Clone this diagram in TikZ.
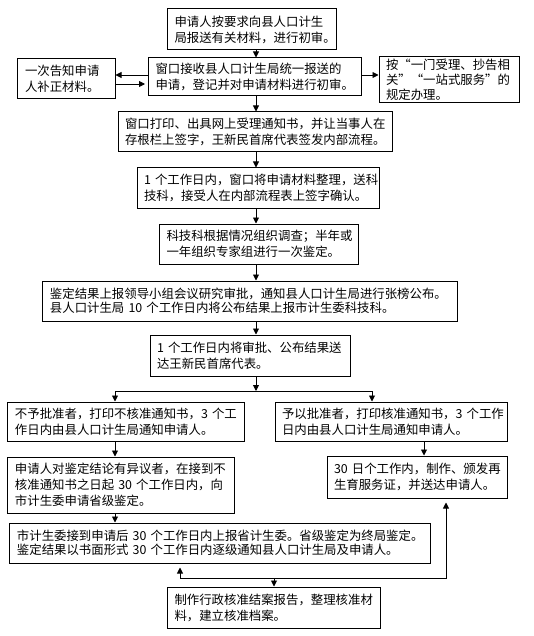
\documentclass[tikz,border=0pt]{standalone}
\usepackage{fontspec}
\setmainfont{Noto Sans CJK SC}
\usetikzlibrary{arrows.meta}
\tikzset{
  bx/.style={draw, line width=1bp, inner xsep=7bp, inner ysep=0pt, align=left,
    font=\fontsize{12.4bp}{16bp}\selectfont},
  arr/.style={line width=0.9bp, -{Triangle[length=6bp,width=6bp]}},
}
\begin{document}
\begin{tikzpicture}[x=1bp,y=-1bp]
\useasboundingbox (0,0) rectangle (534,636);
\node[bx, text width=155bp, minimum height=41bp] (A) at (252,29.5) {申请人按要求向县人口计生\\局报送有关材料，进行初审。};
\node[bx, text width=199bp, minimum height=38bp] (B) at (255,77) {窗口接收县人口计生局统一报送的\\申请，登记并对申请材料进行初审。};
\node[bx, text width=83bp, minimum height=40bp] (C) at (66.5,79) {一次告知申请\\人补正材料。};
\node[bx, text width=126bp, minimum height=46bp, font=\fontsize{12.4bp}{15bp}\selectfont] (D) at (449,80) {按“一门受理、抄告相\\关”“一站式服务”的\\规定办理。};
\node[bx, text width=260bp, minimum height=40bp] (E) at (255,132) {窗口打印、出具网上受理通知书，并让当事人在\\存根栏上签字，王新民首席代表签发内部流程。};
\node[bx, text width=228bp, minimum height=40bp] (F) at (258,188) {1~个工作日内，窗口将申请材料整理，送科\\技科，接受人在内部流程表上签字确认。};
\node[bx, text width=185bp, minimum height=40bp] (G) at (259,244) {科技科根据情况组织调查；半年或\\一年组织专家组进行一次鉴定。};
\node[bx, text width=400bp, minimum height=40bp, font=\fontsize{12.4bp}{14.5bp}\selectfont] (H) at (250,301) {鉴定结果上报领导小组会议研究审批，通知县人口计生局进行张榜公布。\\县人口计生局~10~个工作日内将公布结果上报市计生委科技科。};
\node[bx, text width=186bp, minimum height=41bp] (I) at (250,355.5) {1~个工作日内将审批、公布结果送\\达王新民首席代表。};
\node[bx, text width=222bp, minimum height=39bp] (J) at (126,421.5) {不予批准者，打印不核准通知书，3~个工\\作日内由县人口计生局通知申请人。};
\node[bx, text width=218bp, minimum height=39bp] (K) at (391,421.5) {予以批准者，打印核准通知书，3~个工作\\日内由县人口计生局通知申请人。};
\node[bx, text width=212bp, minimum height=56bp] (L) at (121,485) {申请人对鉴定结论有异议者，在接到不\\核准通知书之日起~30~个工作日内，向\\市计生委申请省级鉴定。};
\node[bx, text width=166bp, minimum height=42bp] (M) at (417,477) {30~日个工作内，制作、颁发再\\生育服务证，并送达申请人。};
\node[bx, text width=406bp, minimum height=40bp, font=\fontsize{12.4bp}{14.5bp}\selectfont] (N) at (220,543) {市计生委接到申请后~30~个工作日内上报省计生委。省级鉴定为终局鉴定。\\鉴定结果以书面形式~30~个工作日内逐级通知县人口计生局及申请人。};
\node[bx, text width=199bp, minimum height=41bp] (O) at (274,607.5) {制作行政核准结案报告，整理核准材\\料，建立核准档案。};
% helper coordinates
\coordinate (xm) at (256,0);
\coordinate (yu) at (0,75);
\coordinate (yl) at (0,84);
\coordinate (sp) at (256,391);
\coordinate (xj) at (115,0);
\coordinate (xk) at (372,0);
\coordinate (xmr) at (424,0);
\coordinate (bm) at (274,578);
\coordinate (xn) at (180,0);
\coordinate (xr) at (446,0);
% connectors
\draw[arr] (A.south -| xm) -- (B.north -| xm);
\draw[arr] (B.west |- yu) -- (C.east |- yu);
\draw[arr,shorten >=3bp] (C.east |- yl) -- (B.west |- yl);
\draw[arr] (B.east |- yu) -- (D.west |- yu);
\draw[arr] (B.south -| xm) -- (E.north -| xm);
\draw[arr] (E.south -| xm) -- (F.north -| xm);
\draw[arr] (F.south -| xm) -- (G.north -| xm);
\draw[arr] (G.south -| xm) -- (H.north -| xm);
\draw[arr] (H.south -| xm) -- (I.north -| xm);
\draw[arr] (I.south -| xm) -- (sp);
\draw[arr] (sp) -| (J.north -| xj);
\draw[arr] (sp) -| (K.north -| xk);
\draw[arr] (J.south -| xj) -- (L.north -| xj);
\draw[arr] (K.south -| xmr) -- (M.north -| xmr);
\draw[arr] (L.south -| xj) -- (N.north -| xj);
\draw[arr] (bm) -- (O.north -| bm);
\draw[arr,shorten >=4bp] (bm) -| (N.south -| xn);
\draw[arr,shorten >=4bp] (bm) -| (M.south -| xr);
\end{tikzpicture}
\end{document}
